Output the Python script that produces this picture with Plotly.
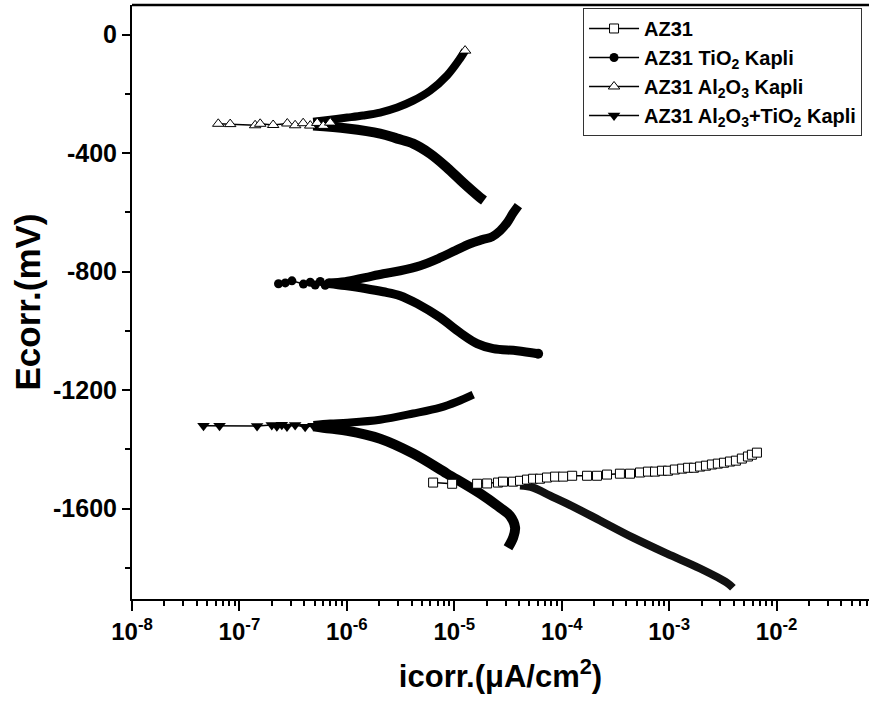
import plotly.graph_objects as go

# ---------------- data (current in A/cm2 as plotted, potential in mV) ----------------
# AZ31 (open squares)
az31_anod_i = [6.35e-6, 9.55e-6, 1.63e-5, 2.02e-5, 2.55e-5, 2.84e-5, 3.52e-5, 4.09e-5, 4.75e-5, 5.41e-5,
               6.28e-5, 7.29e-5, 8.67e-5, 1.03e-4, 1.25e-4, 1.72e-4, 2.13e-4, 2.64e-4, 3.48e-4, 4.32e-4,
               5.35e-4, 6.35e-4, 7.38e-4, 8.57e-4, 9.75e-4, 1.13e-3, 1.32e-3, 1.50e-3, 1.70e-3, 1.94e-3,
               2.20e-3, 2.50e-3, 2.84e-3, 3.24e-3, 3.68e-3, 4.18e-3, 4.75e-3, 5.41e-3, 5.89e-3, 6.56e-3]
az31_anod_e = [-1512, -1516, -1516, -1515, -1512, -1509, -1509, -1506, -1502, -1499,
               -1499, -1495, -1492, -1492, -1489, -1489, -1489, -1485, -1482, -1482,
               -1478, -1475, -1475, -1472, -1472, -1468, -1465, -1462, -1462, -1458,
               -1455, -1451, -1448, -1445, -1441, -1438, -1431, -1424, -1418, -1411]
az31_cath_i = [4.09e-5, 5.41e-5, 7.78e-5, 1.12e-4, 2.27e-4, 4.61e-4, 9.55e-4, 1.94e-3, 3.45e-3, 3.92e-3]
az31_cath_e = [-1522, -1529, -1556, -1583, -1640, -1698, -1752, -1802, -1850, -1867]

# AZ31 TiO2 Kapli (filled circles)
tio2_mid_i = [2.31e-7, 2.67e-7, 3.08e-7, 3.94e-7, 4.56e-7, 5.07e-7, 5.65e-7, 6.28e-7, 6.75e-7]
tio2_mid_e = [-841, -838, -831, -842, -836, -845, -833, -846, -838]
tio2_anod_i = [6.75e-7, 9.64e-7, 1.48e-6, 2.18e-6, 3.13e-6, 4.81e-6, 7.38e-6, 1.02e-5, 1.40e-5,
               1.82e-5, 2.25e-5, 2.67e-5, 3.10e-5, 3.50e-5, 3.95e-5]
tio2_anod_e = [-838, -834, -820, -807, -797, -780, -753, -729, -706, -692, -682, -662, -635, -604, -577]
tio2_cath_i = [6.75e-7, 9.64e-7, 1.48e-6, 2.18e-6, 3.13e-6, 4.51e-6, 7.38e-6, 1.13e-5, 1.63e-5,
               2.30e-5, 3.84e-5, 6.03e-5]
tio2_cath_e = [-840, -847, -857, -868, -881, -908, -955, -1006, -1043, -1060, -1067, -1077]

# AZ31 Al2O3 Kapli (open up-triangles)
al_mid_i = [6.35e-8, 8.2e-8, 1.40e-7, 1.56e-7, 2.06e-7, 2.79e-7, 3.30e-7, 3.92e-7, 4.56e-7, 5.30e-7,
            6.03e-7, 7.0e-7]
al_mid_e = [-301, -302, -306, -301, -305, -300, -306, -299, -307, -298, -308, -297]
al_anod_i = [4.86e-7, 7.0e-7, 1.01e-6, 1.42e-6, 2.04e-6, 2.94e-6, 4.14e-6, 5.96e-6, 8.57e-6, 1.13e-5, 1.26e-5]
al_anod_e = [-294, -287, -280, -273, -263, -246, -223, -189, -138, -81, -54]
al_cath_i = [4.86e-7, 1.01e-6, 2.04e-6, 2.94e-6, 4.14e-6, 5.96e-6, 8.57e-6, 1.21e-5, 1.74e-5, 1.89e-5]
al_cath_e = [-307, -317, -334, -351, -368, -402, -449, -500, -550, -560]

# AZ31 Al2O3+TiO2 Kapli (filled down-triangles)
alti_mid_i = [4.63e-8, 6.53e-8, 1.46e-7, 2.00e-7, 2.23e-7, 2.48e-7, 2.77e-7, 3.30e-7, 4.09e-7, 4.89e-7]
alti_mid_e = [-1320, -1320, -1321, -1318, -1322, -1317, -1323, -1318, -1324, -1320]
alti_anod_i = [4.89e-7, 7.0e-7, 1.01e-6, 2.04e-6, 4.14e-6, 7.38e-6, 1.06e-5, 1.50e-5]
alti_anod_e = [-1318, -1313, -1310, -1300, -1279, -1259, -1239, -1215]
alti_cath_i = [4.89e-7, 7.0e-7, 1.01e-6, 2.04e-6, 4.14e-6, 8.57e-6, 1.74e-5, 2.67e-5, 3.30e-5,
               3.68e-5, 3.53e-5, 3.16e-5]
alti_cath_e = [-1322, -1330, -1337, -1364, -1414, -1482, -1549, -1597, -1624, -1664, -1698, -1732]

x_tick_vals = [1e-8, 1e-7, 1e-6, 1e-5, 1e-4, 1e-3, 1e-2]
x_tick_text = ["10<sup>-8</sup>", "10<sup>-7</sup>", "10<sup>-6</sup>", "10<sup>-5</sup>",
               "10<sup>-4</sup>", "10<sup>-3</sup>", "10<sup>-2</sup>"]
y_tick_vals = [0, -400, -800, -1200, -1600]
y_tick_text = ["0", "-400", "-800", "-1200", "-1600"]

names = ["AZ31", "AZ31 TiO<sub>2</sub> Kapli", "AZ31 Al<sub>2</sub>O<sub>3</sub> Kapli",
         "AZ31 Al<sub>2</sub>O<sub>3</sub>+TiO<sub>2</sub> Kapli"]

# ---------------- figure ----------------
fig = go.Figure()


def band(xs, ys, w, color="black"):
    fig.add_trace(go.Scatter(x=xs, y=ys, mode="lines", showlegend=False, hoverinfo="skip",
                             line=dict(color=color, width=w, shape="spline")))


# Al2O3 coated
band(al_anod_i, al_anod_e, 8)
band(al_cath_i, al_cath_e, 10)
fig.add_trace(go.Scatter(x=al_mid_i, y=al_mid_e, mode="lines+markers", name=names[2], legendrank=3,
                         line=dict(color="black", width=1.5),
                         marker=dict(symbol="triangle-up", size=10, color="white",
                                     line=dict(color="black", width=1))))
fig.add_trace(go.Scatter(x=al_anod_i[-1:], y=al_anod_e[-1:], mode="markers", showlegend=False,
                         marker=dict(symbol="triangle-up", size=10, color="white",
                                     line=dict(color="black", width=1))))

# TiO2 coated
band(tio2_anod_i, tio2_anod_e, 9)
band(tio2_cath_i, tio2_cath_e, 9)
fig.add_trace(go.Scatter(x=tio2_mid_i, y=tio2_mid_e, mode="lines+markers", name=names[1], legendrank=2,
                         line=dict(color="black", width=1.5),
                         marker=dict(symbol="circle", size=9, color="black")))
fig.add_trace(go.Scatter(x=tio2_cath_i[-1:], y=tio2_cath_e[-1:], mode="markers", showlegend=False,
                         marker=dict(symbol="circle", size=10, color="black")))

# Al2O3+TiO2 coated
band(alti_anod_i, alti_anod_e, 8)
band(alti_cath_i, alti_cath_e, 10)
fig.add_trace(go.Scatter(x=alti_mid_i, y=alti_mid_e, mode="lines+markers", name=names[3], legendrank=4,
                         line=dict(color="black", width=1.5),
                         marker=dict(symbol="triangle-down", size=11, color="black")))

# AZ31 bare
band(az31_cath_i, az31_cath_e, 8, "#111111")
fig.add_trace(go.Scatter(x=az31_anod_i, y=az31_anod_e, mode="lines+markers", name=names[0], legendrank=1,
                         line=dict(color="black", width=1.5),
                         marker=dict(symbol="square", size=9, color="white",
                                     line=dict(color="black", width=1))))

minor_x = [m * 10.0 ** e for e in range(-8, -1) for m in range(2, 10)]

fig.update_layout(
    width=869, height=709,
    margin=dict(l=132, r=0, t=5, b=110),
    paper_bgcolor="white", plot_bgcolor="white",
    font=dict(family="Arial, Liberation Sans, sans-serif", color="black"),
    legend=dict(x=0.612, y=0.995, xanchor="left", yanchor="top",
                bordercolor="#333333", borderwidth=1, bgcolor="white",
                font=dict(size=20, weight="bold"), itemwidth=50),
    showlegend=True,
)

fig.update_xaxes(
    type="log", range=[-8, -1.14],
    tickvals=x_tick_vals, ticktext=x_tick_text,
    ticks="outside", ticklen=10, tickwidth=2, tickcolor="black",
    showline=True, linecolor="black", linewidth=2, mirror=False,
    showgrid=False, zeroline=False,
    tickfont=dict(family="Liberation Sans Narrow, Arial Narrow, Liberation Sans", size=24, weight="bold"),
    minor=dict(tickvals=minor_x, ticks="outside", ticklen=5, tickwidth=1.5, tickcolor="black", showgrid=False),
    title=dict(text="icorr.(\u03bcA/cm<sup>2</sup>)",
               font=dict(family="Liberation Sans Narrow, Arial Narrow, Liberation Sans", size=31, weight="bold"),
               standoff=22),
)
fig.update_yaxes(
    range=[-1905, 100],
    tickvals=y_tick_vals, ticktext=y_tick_text,
    ticks="outside", ticklen=8, tickwidth=1.5, tickcolor="black",
    showline=True, linecolor="black", linewidth=2,
    showgrid=False, zeroline=False,
    tickfont=dict(size=25, weight="bold"),
    minor=dict(tickvals=[-200, -600, -1000, -1400, -1800], ticks="outside", ticklen=5,
               tickwidth=1.5, tickcolor="black", showgrid=False),
    title=dict(text="Ecorr.(mV)", font=dict(size=35, weight="bold"), standoff=2),
)

# top frame line
fig.add_shape(type="line", xref="paper", yref="paper", x0=0, x1=1, y0=1, y1=1,
              line=dict(color="black", width=2.5))

fig.write_html("out.html")
